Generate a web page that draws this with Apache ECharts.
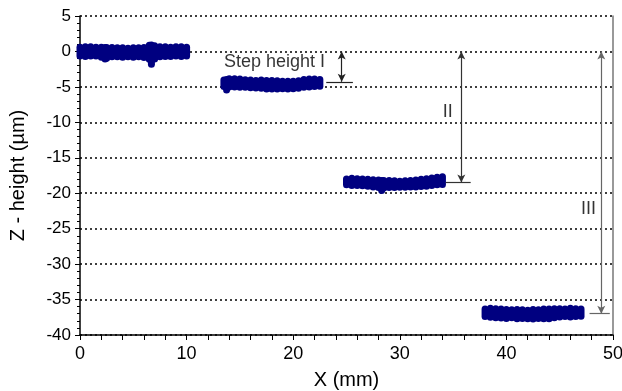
<!DOCTYPE html>
<html>
<head>
<meta charset="utf-8">
<script src="https://cdn.jsdelivr.net/npm/echarts@6/dist/echarts.min.js"></script>
<style>
html,body{margin:0;padding:0;background:#fff;}
#c{width:622px;height:391px;}
</style>
</head>
<body>
<div id="c"></div>
<script>
const seg1X   = [0, 0.5, 1, 1.5, 2, 2.35, 2.5, 3, 3.5, 4, 4.5, 5, 5.5, 6, 6.5, 6.7, 7, 7.5, 8, 8.5, 9, 9.5, 10];
const seg1Top = [1.1, 1.15, 1.15, 1.1, 1.1, 1.05, 1.05, 1.05, 1.0, 1.0, 0.95, 1.0, 1.0, 1.05, 1.35, 1.4, 1.3, 1.15, 1.15, 1.1, 1.15, 1.15, 1.1];
const seg1Bot = [-1.15, -1.2, -1.15, -1.15, -1.3, -1.55, -1.45, -1.25, -1.25, -1.3, -1.25, -1.3, -1.25, -1.35, -1.6, -2.3, -1.55, -1.25, -1.2, -1.2, -1.15, -1.2, -1.15];

const seg2X   = [13.5, 13.75, 14, 14.5, 15, 15.5, 16, 16.5, 17, 17.5, 18, 18.5, 19, 19.5, 20, 20.5, 21, 21.5, 22, 22.5];
const seg2Top = [-3.55, -3.45, -3.35, -3.35, -3.4, -3.5, -3.55, -3.6, -3.55, -3.6, -3.6, -3.65, -3.7, -3.7, -3.7, -3.65, -3.45, -3.4, -3.4, -3.45];
const seg2Bot = [-5.45, -5.95, -5.5, -5.5, -5.55, -5.55, -5.6, -5.65, -5.7, -5.8, -5.8, -5.8, -5.75, -5.8, -5.75, -5.7, -5.55, -5.5, -5.45, -5.4];

const seg3X   = [25, 25.5, 26, 26.5, 27, 27.5, 28, 28.3, 28.5, 29, 29.5, 30, 30.5, 31, 31.5, 32, 32.5, 33, 33.5, 34];
const seg3Top = [-17.5, -17.4, -17.45, -17.5, -17.55, -17.6, -17.65, -17.7, -17.7, -17.7, -17.75, -17.8, -17.75, -17.7, -17.65, -17.55, -17.45, -17.35, -17.25, -17.2];
const seg3Bot = [-19.3, -19.4, -19.4, -19.45, -19.5, -19.6, -19.7, -20.1, -19.75, -19.7, -19.7, -19.65, -19.65, -19.6, -19.6, -19.55, -19.5, -19.4, -19.3, -19.25];

const seg4X   = [38, 38.5, 39, 39.5, 40, 40.5, 41, 41.5, 42, 42.5, 43, 43.5, 44, 44.5, 45, 45.5, 46, 46.5, 47];
const seg4Top = [-35.85, -35.75, -35.8, -35.85, -35.9, -35.95, -35.9, -35.95, -36.0, -35.9, -35.95, -35.85, -35.85, -35.8, -35.8, -35.85, -35.75, -35.8, -35.85];
const seg4Bot = [-37.9, -38.0, -38.05, -38.1, -38.15, -38.05, -38.2, -38.15, -38.2, -38.25, -38.15, -38.2, -38.2, -38.05, -37.95, -37.9, -37.95, -37.9, -37.85];

// step-height annotations
const stepNames  = ['I', 'II', 'III'];
const stepArrowX = [24.55, 35.77, 48.9];
const stepLevel  = [-4.28, -18.5, -37.0];
const stepBarX0  = [23.1, 34.3, 47.8];
const stepBarX1  = [25.6, 36.65, 49.7];
const labelText  = ['Step height I', 'II', 'III'];
const labelPos   = [[13.5, -1.55], [34.5, -8.6], [47.7, -22.3]];

const xTicks = [0, 10, 20, 30, 40, 50];
const yTicks = [5, 0, -5, -10, -15, -20, -25, -30, -35, -40];

// ---- chart ----
const band = (xs, tops, bots) => xs.map((x, i) => [x, tops[i], bots[i]]);
const allData = [].concat(
  band(seg1X, seg1Top, seg1Bot),
  band(seg2X, seg2Top, seg2Bot),
  band(seg3X, seg3Top, seg3Bot),
  band(seg4X, seg4Top, seg4Bot)
);

const NAVY = '#000080';
const FONT = 'Liberation Sans, Arial, sans-serif';
const arrowColors = ['#222', '#333', '#666'];

const markLines = [];
stepNames.forEach((n, i) => {
  markLines.push([
    {coord: [stepArrowX[i], 0], symbol: 'arrow', lineStyle: {color: arrowColors[i]}, itemStyle: {color: arrowColors[i]}},
    {coord: [stepArrowX[i], stepLevel[i]], symbol: 'arrow'}
  ]);
  markLines.push([
    {coord: [stepBarX0[i], stepLevel[i]], symbol: 'none', lineStyle: {color: arrowColors[i]}},
    {coord: [stepBarX1[i], stepLevel[i]], symbol: 'none'}
  ]);
});

const labelData = labelText.map((t, i) => ({
  value: labelPos[i], name: t,
  label: i === 0 ? {position: 'right', distance: 0} : {position: 'inside'}
}));

const chart = echarts.init(document.getElementById('c'), null, {renderer: 'canvas'});
chart.setOption({
  animation: false,
  backgroundColor: '#fff',
  grid: {left: 80, right: 9, top: 16, bottom: 56, containLabel: false, outerBoundsMode: 'none'},
  xAxis: {
    type: 'value', min: xTicks[0], max: xTicks[xTicks.length - 1], interval: 10,
    name: 'X (mm)', nameLocation: 'middle', nameGap: 35,
    nameTextStyle: {fontFamily: FONT, fontSize: 20, color: '#000'},
    axisLine: {show: true, onZero: false, lineStyle: {color: '#000', width: 1.5}},
    axisTick: {show: true, inside: false, length: 5, lineStyle: {color: '#000', width: 1}},
    minorTick: {show: true, splitNumber: 5, length: 5, lineStyle: {color: '#000', width: 1}},
    axisLabel: {fontFamily: FONT, fontSize: 18, color: '#000', margin: 10},
    splitLine: {show: false}
  },
  yAxis: [{
    type: 'value', min: yTicks[yTicks.length - 1], max: yTicks[0], interval: 5,
    name: 'Z - height (µm)', nameLocation: 'middle', nameGap: 52, nameRotate: 90,
    nameTextStyle: {fontFamily: FONT, fontSize: 20, color: '#000'},
    axisLine: {show: true, onZero: false, lineStyle: {color: '#000', width: 1.5}},
    axisTick: {show: true, inside: false, length: 5, lineStyle: {color: '#000', width: 1}},
    minorTick: {show: true, splitNumber: 5, length: 3, lineStyle: {color: '#000', width: 1}},
    axisLabel: {fontFamily: FONT, fontSize: 17, color: '#000', margin: 9},
    splitLine: {show: true, lineStyle: {color: '#000', width: 1.5, type: [2, 3]}}
  }, {
    type: 'value', position: 'right', min: -40, max: 5, interval: 5,
    axisLine: {show: true, onZero: false, lineStyle: {color: '#777', width: 1.5}},
    axisTick: {show: false}, axisLabel: {show: false}, splitLine: {show: false}
  }],
  series: [{
    type: 'custom',
    coordinateSystem: 'cartesian2d',
    dimensions: ['x', 'top', 'bot'],
    encode: {x: 0, y: [1, 2]},
    data: allData,
    renderItem: function (params, api) {
      const p1 = api.coord([api.value(0), api.value(1)]);
      const p2 = api.coord([api.value(0), api.value(2)]);
      const w = 7;
      return {
        type: 'rect',
        shape: {x: p1[0] - w / 2, y: p1[1], width: w, height: p2[1] - p1[1], r: w / 2},
        style: {fill: NAVY}
      };
    },
    z: 3
  }, {
    type: 'scatter',
    data: labelData,
    symbolSize: 0,
    silent: true,
    label: {
      show: true,
      formatter: p => p.name,
      fontFamily: FONT, fontSize: 18, color: '#000'
    },
    markLine: {
      silent: true,
      symbolSize: [6, 8],
      label: {show: false},
      lineStyle: {type: 'solid', width: 1.2, color: '#333'},
      data: markLines
    },
    z: 4
  }]
});
</script>
</body>
</html>
